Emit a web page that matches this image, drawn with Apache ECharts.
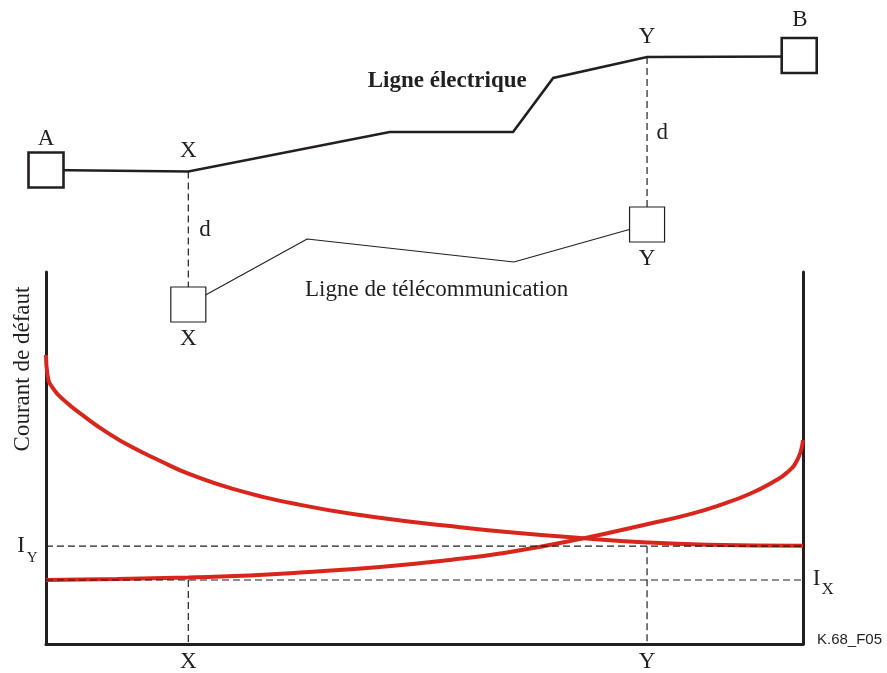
<!DOCTYPE html>
<html><head><meta charset="utf-8">
<script src="https://cdn.jsdelivr.net/npm/echarts@6/dist/echarts.min.js"></script>
<style>html,body{margin:0;padding:0;background:#fff}#c{width:887px;height:673px}</style>
</head><body><div id="c"></div>
<script>
// ---------------- data ----------------
// positions X and Y along the power line A -> B (0..100 %)
const posX = 18.8, posY = 79.4;
// schematic (top part): route of the power line and telecom line (drawing units, downwards)
const powerRouteX = [0, 18.8, 45.4, 61.7, 67.0, 79.4, 99.5];
const powerRouteY = [170, 171.5, 132, 132, 78, 57, 56.5];
const telecomRouteX = [18.8, 34.5, 61.8, 79.4];
const telecomRouteY = [304.5, 239, 262, 224.5];
const stationX = [0, 99.5];
const stationY = [170, 55.5];
const telecomEndX = [18.8, 79.4];
const telecomEndY = [304.5, 224.5];
// fault current curves (bottom part)
const faultA_X = [0, 0.2, 0.9, 2.6, 5.3, 7.9, 11.1, 15.1, 18.8, 24.7, 33.6, 42.4, 53.4, 60.9, 70.5, 79.4, 87.3, 100];
const faultA_Y = [77.7, 72.3, 68.8, 65.1, 60.8, 57.1, 53.2, 49.2, 45.8, 41.7, 37.4, 34.4, 31.7, 30.1, 28.5, 27.3, 26.7, 26.4];
const faultB_X = [0, 9.4, 18.8, 26.9, 33.6, 44.1, 53.4, 60.9, 70.5, 79.4, 85.1, 89.4, 93.0, 96.0, 97.9, 99.3, 100];
const faultB_Y = [17.2, 17.5, 17.9, 18.4, 19.2, 20.7, 22.6, 24.6, 28.2, 32.2, 34.9, 37.6, 40.4, 43.5, 46.1, 49.7, 54.8];
const currentIY = 26.3, currentIX = 17.2;
// text annotations
const labelText = ['A', 'X', 'Y', 'B', 'd', 'd', 'X', 'Y', 'Ligne électrique', 'Ligne de télécommunication',
  'Courant de défaut', 'X', 'Y', 'K.68_F05', '{i|I}{s|Y}', '{i|I}{t|X}'];
const labelX = [0, 18.8, 79.4, 99.6, 21.0, 81.4, 18.8, 79.4, 53.0, 51.6, -3.0, 18.8, 79.4, 101.85, -1.1, 101.3];
const labelY = [138.5, 151, 37, 19.5, 230, 132.5, 339, 258.7, 81, 290, 369, 661.7, 661.7, 640, 546, 579];

// ---------------- chart ----------------
const chart = echarts.init(document.getElementById('c'), null, { renderer: 'canvas' });
const ink = '#231f20', red = '#d9261c';
const serif = "'Liberation Serif','Times New Roman',serif";
const zip = (a, b) => a.map((v, i) => [v, b[i]]);
const dashed = (data) => ({
  type: 'line', xAxisIndex: 1, yAxisIndex: 1, data, symbol: 'none', silent: true, z: 4,
  lineStyle: { color: ink, width: 1.2, type: [7, 4] }
});
const dashedTop = (data) => Object.assign(dashed(data), { xAxisIndex: 0, yAxisIndex: 0, z: 1 });

const labelData = labelText.map((t, i) => {
  const item = { value: [labelX[i], labelY[i]], name: t, label: {} };
  if (t === 'Ligne électrique') item.label.fontWeight = 'bold';
  if (t === 'Courant de défaut') item.label.rotate = 90;
  if (t === 'K.68_F05') { item.label.fontFamily = "'Liberation Sans',Arial,sans-serif"; item.label.fontSize = 15; item.label.align = 'left'; }
  if (t.startsWith('{i|I}{s')) item.label.align = 'right';
  if (t.startsWith('{i|I}{t')) item.label.align = 'left';
  return item;
});

const axisHidden = { show: false };
const axisLineStyle = { show: true, onZero: false, lineStyle: { color: ink, width: 3 } };

chart.setOption({
  animation: false,
  backgroundColor: '#fff',
  grid: [
    { left: 46, right: 84, top: 0, bottom: 0 },
    { left: 46, right: 84, top: 272, bottom: 29 }
  ],
  xAxis: [
    { gridIndex: 0, type: 'value', min: 0, max: 100, show: false },
    { gridIndex: 1, type: 'value', min: 0, max: 100, axisLine: axisLineStyle, axisTick: axisHidden, axisLabel: axisHidden, splitLine: axisHidden }
  ],
  yAxis: [
    { gridIndex: 0, type: 'value', min: 0, max: 673, inverse: true, show: false },
    { gridIndex: 1, type: 'value', min: 0, max: 100, axisLine: axisLineStyle, axisTick: axisHidden, axisLabel: axisHidden, splitLine: axisHidden },
    { gridIndex: 1, type: 'value', min: 0, max: 100, position: 'right', axisLine: axisLineStyle, axisTick: axisHidden, axisLabel: axisHidden, splitLine: axisHidden }
  ],
  series: [
    // power line
    { type: 'line', xAxisIndex: 0, yAxisIndex: 0, data: zip(powerRouteX, powerRouteY), symbol: 'none', silent: true, z: 2,
      lineStyle: { color: ink, width: 2.6, join: 'miter' } },
    // telecom line
    { type: 'line', xAxisIndex: 0, yAxisIndex: 0, data: zip(telecomRouteX, telecomRouteY), symbol: 'none', silent: true, z: 2,
      lineStyle: { color: ink, width: 1.1 } },
    // separation distance d
    dashedTop([[posX, powerRouteY[1]], [posX, telecomEndY[0]]]),
    dashedTop([[posY, powerRouteY[5]], [posY, telecomEndY[1]]]),
    // substations A and B
    { type: 'scatter', xAxisIndex: 0, yAxisIndex: 0, data: zip(stationX, stationY), symbol: 'rect', symbolSize: 35, silent: true, z: 5, clip: false,
      itemStyle: { color: '#fff', borderColor: ink, borderWidth: 2.6, opacity: 1 } },
    // telecom ends X and Y
    { type: 'scatter', xAxisIndex: 0, yAxisIndex: 0, data: zip(telecomEndX, telecomEndY), symbol: 'rect', symbolSize: 35, silent: true, z: 5, clip: false,
      itemStyle: { color: '#fff', borderColor: ink, borderWidth: 1.2, opacity: 1 } },
    // fault current curves
    { type: 'line', xAxisIndex: 1, yAxisIndex: 1, data: zip(faultA_X, faultA_Y), symbol: 'none', silent: true, z: 3,
      smooth: 0.5, clip: false, lineStyle: { color: red, width: 4 } },
    { type: 'line', xAxisIndex: 1, yAxisIndex: 1, data: zip(faultB_X, faultB_Y), symbol: 'none', silent: true, z: 3,
      smooth: 0.5, clip: false, lineStyle: { color: red, width: 4 } },
    // reference levels IY, IX and positions X, Y
    dashed([[0, currentIY], [100, currentIY]]),
    dashed([[0, currentIX], [100, currentIX]]),
    dashed([[posX, currentIX], [posX, 0]]),
    dashed([[posY, currentIY], [posY, 0]]),
    // text
    { type: 'scatter', xAxisIndex: 0, yAxisIndex: 0, data: labelData, symbolSize: 0, silent: true, clip: false, z: 10,
      itemStyle: { opacity: 1 },
      label: { show: true, position: 'inside', formatter: '{b}', color: ink, fontFamily: serif, fontSize: 23,
        rich: {
          i: { fontFamily: serif, fontSize: 23, color: ink },
          s: { fontFamily: serif, fontSize: 15, color: ink, verticalAlign: 'bottom', padding: [0, 0, -8, 2] },
          t: { fontFamily: serif, fontSize: 17, color: ink, verticalAlign: 'bottom', padding: [0, 0, -8, 1] }
        } } }
  ]
});
</script></body></html>
